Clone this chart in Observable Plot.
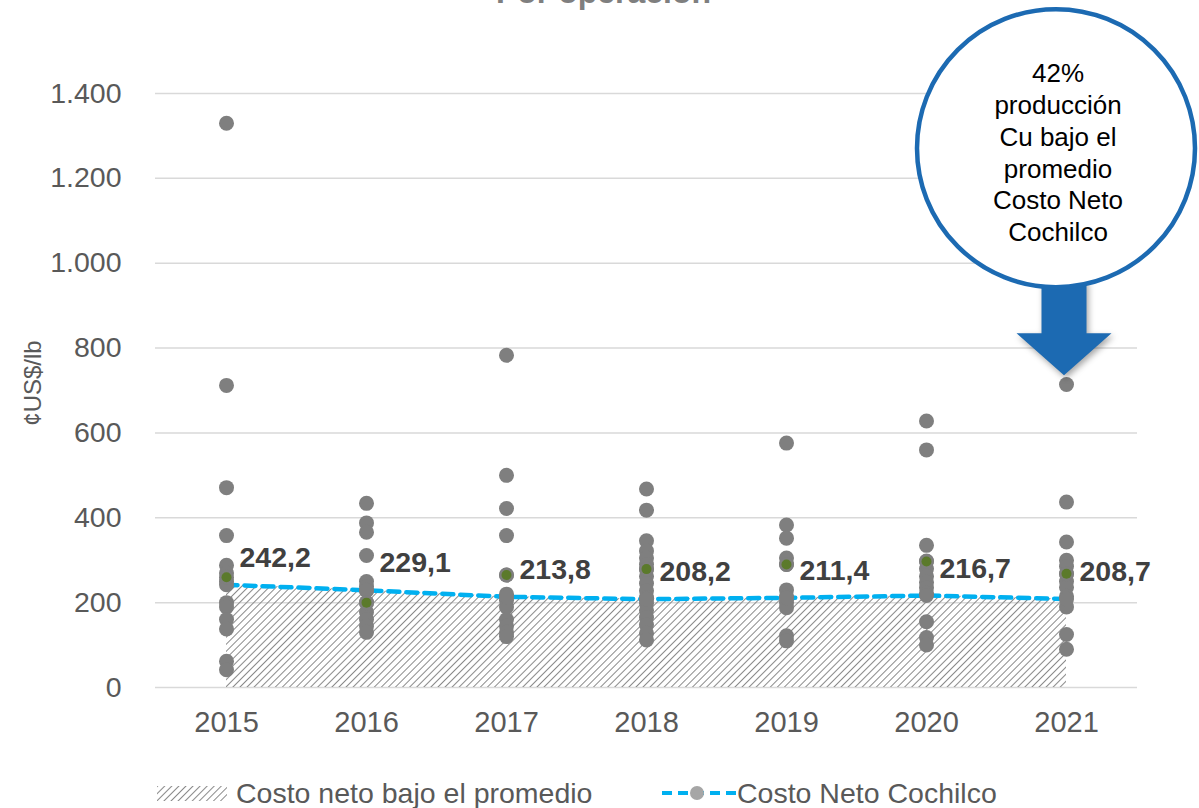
<!DOCTYPE html>
<html><head><meta charset="utf-8">
<script src="https://cdn.jsdelivr.net/npm/d3@7"></script>
<script src="https://cdn.jsdelivr.net/npm/@observablehq/plot@0.6"></script>
<style>
body{margin:0;background:#fff;font-family:"Liberation Sans",Arial,sans-serif;}
#wrap{position:relative;width:1199px;height:808px;overflow:hidden;background:#fff;}
#title{position:absolute;left:0;top:-24px;width:1207px;text-align:center;font-size:32px;line-height:32px;font-weight:bold;color:#7f7f7f;}
#chart{position:absolute;left:0;top:0;}
.leg{position:absolute;font-size:28.5px;line-height:28.5px;color:#595959;white-space:nowrap;}
.sw{position:absolute;}
</style></head><body>
<div id="wrap">
<svg width="0" height="0" style="position:absolute"><defs>
<pattern id="hatch" width="5" height="5" patternUnits="userSpaceOnUse" patternTransform="rotate(45)">
<line x1="0.5" y1="0" x2="0.5" y2="5" stroke="#8a8a8a" stroke-width="1"/></pattern></defs></svg>
<div id="chart"></div>
<div id="title">Por operación</div>
<div id="legend"></div>
</div>
<script>
const years = ["2015","2016","2017","2018","2019","2020","2021"];
const avgCost = [242.2, 229.1, 213.8, 208.2, 211.4, 216.7, 208.7];
const cost2015 = [1330, 712, 471, 358, 288, 270, 250, 200, 190, 160, 138, 62, 42];
const cost2016 = [434, 388, 366, 311, 250, 238, 228, 200, 178, 160, 145, 130];
const cost2017 = [783, 500, 422, 358, 265, 220, 205, 190, 160, 145, 130, 120];
const cost2018 = [468, 418, 346, 322, 305, 290, 278, 262, 245, 228, 212, 198, 182, 165, 148, 128, 112];
const cost2019 = [576, 383, 352, 305, 290, 230, 215, 200, 188, 122, 110];
const cost2020 = [628, 560, 335, 298, 280, 262, 248, 235, 222, 155, 118, 100];
const cost2021 = [714, 437, 343, 300, 285, 268, 250, 236, 215, 190, 125, 90];
const highlight = [260, 200, 265, 279, 290, 297, 268];
const yTicks = [0, 200, 400, 600, 800, 1000, 1200, 1400];
const annotationLines = ["42%", "producción", "Cu bajo el", "promedio", "Costo Neto", "Cochilco"];
const legendLabels = ["Costo neto bajo el promedio", "Costo Neto Cochilco"];
const yLabel = "¢US$/lb";

const costs = [cost2015, cost2016, cost2017, cost2018, cost2019, cost2020, cost2021];
const locale = d3.formatLocale({decimal: ",", thousands: ".", grouping: [3], currency: ["$", ""]});
const fmtInt = locale.format(",.0f");
const fmtDec = locale.format(",.1f");

const avgData = years.map((year, i) => ({year, value: avgCost[i]}));
const pointData = years.flatMap((year, i) => costs[i].map(value => ({year, value})));
const hiData = years.map((year, i) => ({year, value: highlight[i]}));

const BLUE = "#1c6ab2";
const FONT = "Liberation Sans, Arial, sans-serif";

function yAxisLabel(index, scales, values, dimensions) {
  const y = scales.y;
  const cy = (y(0) + y(1400)) / 2 - 7;
  return d3.create("svg:text")
    .attr("transform", `translate(33,${cy}) rotate(-90)`)
    .attr("text-anchor", "middle").attr("dy", "0.35em")
    .attr("font-size", 24).attr("font-family", FONT).attr("fill", "#595959")
    .text(yLabel).node();
}

function annotation(index, scales) {
  const x = scales.x, y = scales.y;
  const cx = x("2021") - 10, cy = y(1270);
  const ax = x("2021") - 2;
  const g = d3.create("svg:g");
  const yTop = y(960), yNeck = y(834), yTip = y(735);
  g.append("path")
    .attr("d", `M${ax-22.5},${yTop}L${ax+22.5},${yTop}L${ax+22.5},${yNeck}L${ax+47.5},${yNeck}L${ax},${yTip}L${ax-47.5},${yNeck}L${ax-22.5},${yNeck}Z`)
    .attr("fill", BLUE)
    .style("filter", "drop-shadow(2px 3px 3px rgba(0,0,0,0.35))");
  g.append("circle").attr("cx", cx).attr("cy", cy).attr("r", 139)
    .attr("fill", "#fff").attr("stroke", BLUE).attr("stroke-width", 4.5);
  const t = g.append("text").attr("text-anchor", "middle").attr("font-size", 26).attr("fill", "#000")
    .attr("font-family", FONT);
  annotationLines.forEach((s, i) => {
    t.append("tspan").attr("x", cx + 2).attr("y", cy - 75 + i * 31.8).attr("dy", "0.35em").text(s);
  });
  return g.node();
}

const chart = Plot.plot({
  width: 1199,
  height: 760,
  marginLeft: 155,
  marginRight: 62,
  marginTop: 93,
  marginBottom: 73,
  style: {fontFamily: FONT, background: "transparent"},
  x: {type: "point", domain: years, padding: 0.5},
  y: {domain: [0, 1400]},
  marks: [
    Plot.gridY(yTicks, {stroke: "#d9d9d9", strokeOpacity: 1, strokeWidth: 1.5}),
    Plot.axisY({ticks: yTicks, tickSize: 0, tickPadding: 34, fontSize: 28.5, color: "#595959", tickFormat: fmtInt, label: null}),
    Plot.axisX({tickSize: 0, tickPadding: 24, fontSize: 29, color: "#595959", label: null}),
    yAxisLabel,
    Plot.areaY(avgData, {x: "year", y: "value", fill: "url(#hatch)"}),
    Plot.line(avgData, {x: "year", y: "value", stroke: "#00b0f0", strokeWidth: 4.5, strokeDasharray: "11,7"}),
    Plot.dot(pointData, {x: "year", y: "value", r: 7.5, fill: "#7f7f7f"}),
    Plot.dot(avgData, {x: "year", y: "value", r: 7.5, fill: "#7f7f7f"}),
    Plot.dot(hiData, {x: "year", y: "value", r: 7.5, fill: "#7f7f7f"}),
    Plot.dot(hiData, {x: "year", y: "value", r: 5, fill: "#5b7a2b"}),
    Plot.text(avgData, {x: "year", y: "value", text: d => fmtDec(d.value), dx: 13, dy: -27, textAnchor: "start", fontSize: 28.5, fontWeight: "bold", fill: "#404040"}),
    annotation
  ]
});
document.getElementById("chart").appendChild(chart);

// legend
const legend = document.getElementById("legend");
legend.innerHTML = `
<svg class="sw" style="left:157px;top:786px" width="70" height="15"><rect width="70" height="15" fill="url(#hatch)"/></svg>
<div class="leg" style="left:236px;top:779px">${legendLabels[0]}</div>
<svg class="sw" style="left:660px;top:783px" width="78" height="20">
<line x1="2" x2="76" y1="10" y2="10" stroke="#00b0f0" stroke-width="4" stroke-dasharray="10,6"/>
<circle cx="37" cy="10" r="7" fill="#a6a6a6"/></svg>
<div class="leg" style="left:737px;top:779px">${legendLabels[1]}</div>`;
</script>
</body></html>
